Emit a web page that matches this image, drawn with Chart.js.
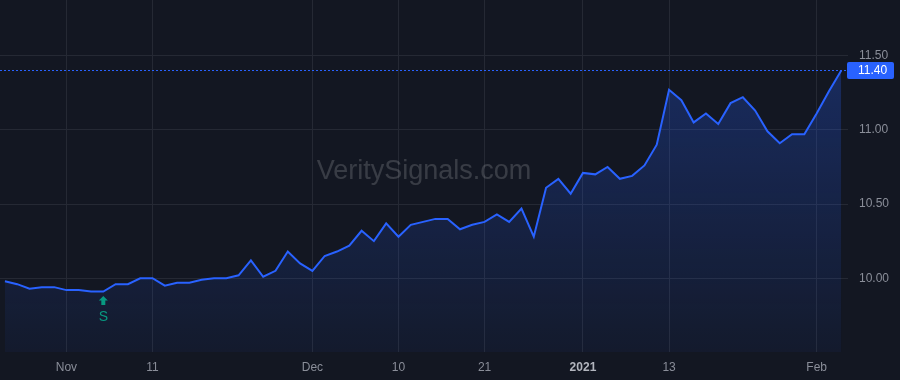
<!DOCTYPE html>
<html>
<head>
<meta charset="utf-8">
<script src="https://cdn.jsdelivr.net/npm/chart.js@4/dist/chart.umd.min.js"></script>
<style>
  html, body { margin:0; padding:0; background:#131722; }
  #wrap { width:900px; height:380px; position:relative; }
</style>
</head>
<body>
<div id="wrap"><canvas id="chart"></canvas></div>
<script>
// trading days shown on the chart
const dates = [
  'Oct 26','Oct 27','Oct 28','Oct 29','Oct 30',
  'Nov 2','Nov 3','Nov 4','Nov 5','Nov 6','Nov 9','Nov 10','Nov 11','Nov 12','Nov 13',
  'Nov 16','Nov 17','Nov 18','Nov 19','Nov 20','Nov 23','Nov 24','Nov 25','Nov 27','Nov 30',
  'Dec 1','Dec 2','Dec 3','Dec 4','Dec 7','Dec 8','Dec 9','Dec 10','Dec 11','Dec 14',
  'Dec 15','Dec 16','Dec 17','Dec 18','Dec 21','Dec 22','Dec 23','Dec 24','Dec 28','Dec 29',
  'Dec 30','Dec 31','Jan 4','Jan 5','Jan 6','Jan 7','Jan 8','Jan 11','Jan 12','Jan 13',
  'Jan 14','Jan 15','Jan 19','Jan 20','Jan 21','Jan 22','Jan 25','Jan 26','Jan 27','Jan 28',
  'Jan 29','Feb 1','Feb 2','Feb 3'
];
const prices = [
  9.98, 9.96, 9.93, 9.94, 9.94,
  9.92, 9.92, 9.91, 9.91, 9.96, 9.96, 10.00, 10.00, 9.95, 9.97,
  9.97, 9.99, 10.00, 10.00, 10.02, 10.12, 10.01, 10.05, 10.18, 10.10,
  10.05, 10.15, 10.18, 10.22, 10.32, 10.25, 10.37, 10.28, 10.36, 10.38,
  10.40, 10.40, 10.33, 10.36, 10.38, 10.43, 10.38, 10.47, 10.28, 10.61,
  10.67, 10.57, 10.71, 10.70, 10.75, 10.67, 10.69, 10.76, 10.90, 11.27,
  11.20, 11.05, 11.11, 11.04, 11.18, 11.22, 11.13, 10.99, 10.91, 10.97,
  10.97, 11.11, 11.26, 11.40
];
const tickDates = ['Nov 2','Nov 11','Dec 1','Dec 10','Dec 21','Jan 4','Jan 13','Feb 1'];
const tickLabels = ['Nov','11','Dec','10','21','2021','13','Feb'];
const yTicks = [10.00, 10.50, 11.00, 11.50];
const signalDate = 'Nov 5';
const signalText = 'S';
const watermark = 'VeritySignals.com';

const FONT = '"Liberation Sans", Arial, sans-serif';
const lineColor = '#2962ff';
const gridColor = '#252934';
const tickIdx = tickDates.map(d => dates.indexOf(d));
const lastPrice = prices[prices.length - 1];

function noPad(s){
  s.paddingTop = 0; s.paddingBottom = 0;
  s.paddingLeft = 0; s.paddingRight = 0;
}

const overlay = {
  id:'overlay',
  beforeDatasetsDraw(chart){
    const c = chart.ctx;
    c.save();
    c.font = '27px ' + FONT;
    c.fillStyle = 'rgba(255,255,255,0.16)';
    c.textAlign = 'center';
    c.textBaseline = 'middle';
    c.fillText(watermark, 424, 172);
    c.restore();
  },
  afterDatasetsDraw(chart){
    const c = chart.ctx, a = chart.chartArea;
    const xs = chart.scales.x, ys = chart.scales.y;
    const py = Math.round(ys.getPixelForValue(lastPrice)) + 0.5;
    c.save();
    // last price dotted line
    c.strokeStyle = lineColor;
    c.lineWidth = 1;
    c.setLineDash([2,2]);
    c.beginPath(); c.moveTo(a.left, py); c.lineTo(a.right, py); c.stroke();
    c.setLineDash([]);
    // price label
    c.fillStyle = lineColor;
    c.beginPath();
    c.roundRect(a.right - 1, py - 8.5, 47, 17, 2);
    c.fill();
    c.fillStyle = '#ffffff';
    c.font = '12px ' + FONT;
    c.textBaseline = 'middle';
    c.textAlign = 'left';
    c.fillText(lastPrice.toFixed(2), a.right + 10, py + 0.5);
    // signal arrow
    const si = dates.indexOf(signalDate);
    const sx = xs.getPixelForValue(si);
    const sy = ys.getPixelForValue(prices[si]) + 4.5;
    c.fillStyle = '#089981';
    c.beginPath();
    c.moveTo(sx, sy);
    c.lineTo(sx + 4.5, sy + 4.5);
    c.lineTo(sx + 2, sy + 4.5);
    c.lineTo(sx + 2, sy + 9);
    c.lineTo(sx - 2, sy + 9);
    c.lineTo(sx - 2, sy + 4.5);
    c.lineTo(sx - 4.5, sy + 4.5);
    c.closePath();
    c.fill();
    c.font = '14px ' + FONT;
    c.textAlign = 'center';
    c.fillText(signalText, sx, sy + 21);
    c.restore();
  }
};

new Chart(document.getElementById('chart'), {
  type:'line',
  data:{
    datasets:[{
      data: prices.map((v,i) => ({x:i, y:v})),
      borderColor: lineColor,
      borderWidth: 2,
      pointRadius: 0,
      tension: 0,
      fill: 'start',
      backgroundColor: ctx => {
        const a = ctx.chart.chartArea;
        if (!a) return 'rgba(41,98,255,0.15)';
        const g = ctx.chart.ctx.createLinearGradient(0, 60, 0, a.bottom);
        g.addColorStop(0, 'rgba(41,98,255,0.28)');
        g.addColorStop(1, 'rgba(41,98,255,0.05)');
        return g;
      }
    }]
  },
  options:{
    responsive:true,
    maintainAspectRatio:false,
    animation:false,
    layout:{ padding:0 },
    plugins:{ legend:{display:false}, tooltip:{enabled:false} },
    scales:{
      x:{
        type:'linear',
        min:-0.4,
        max:68.55,
        afterBuildTicks: s => { s.ticks = tickIdx.map(v => ({value:v})); },
        afterFit: s => { s.height = 28; noPad(s); },
        grid:{ color:gridColor, drawTicks:false },
        border:{ display:false },
        ticks:{
          autoSkip:false,
          maxRotation:0,
          padding:8,
          color: ctx => tickLabels[ctx.index] === '2021' ? '#b2b5be' : '#8a8e99',
          font: ctx => ({ family:FONT, size:12, weight: tickLabels[ctx.index] === '2021' ? 'bold' : 'normal' }),
          callback: (v, i) => tickLabels[i]
        }
      },
      y:{
        position:'right',
        min:9.503,
        max:11.875,
        afterBuildTicks: s => { s.ticks = yTicks.map(v => ({value:v})); },
        afterFit: s => { s.width = 52; noPad(s); },
        grid:{ color:gridColor, drawTicks:false },
        border:{ display:false },
        ticks:{
          padding:11,
          color:'#8a8e99',
          font:{ family:FONT, size:12 },
          callback: v => v.toFixed(2)
        }
      }
    }
  },
  plugins:[overlay]
});
</script>
</body>
</html>
